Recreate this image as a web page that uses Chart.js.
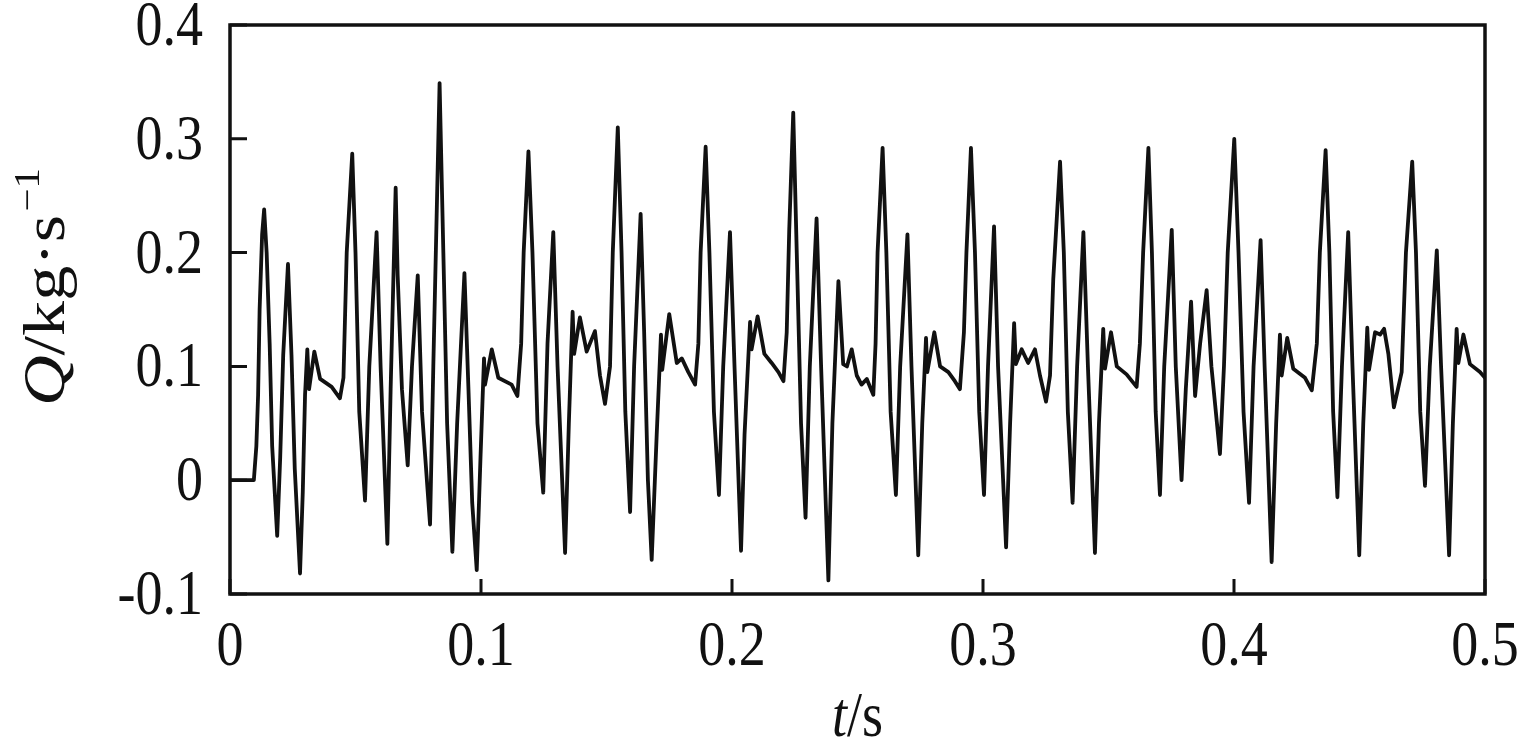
<!DOCTYPE html>
<html>
<head>
<meta charset="utf-8">
<script src="https://cdn.jsdelivr.net/npm/chart.js@4/dist/chart.umd.min.js"></script>
<style>
  html, body { margin: 0; padding: 0; background: #fff; }
  #wrap { width: 1535px; height: 740px; }
</style>
</head>
<body>
<div id="wrap"><canvas id="graphique"></canvas></div>
<script>
// temps (s) et debit (kg/s)
const tValues = [
  0, 0.0095, 0.0105, 0.0112, 0.0118, 0.0128, 0.0136, 0.0146, 0.0158, 0.0168,
  0.0188, 0.0200, 0.0212, 0.0231, 0.0245, 0.0258, 0.0279, 0.0290, 0.0299, 0.0308,
  0.0315, 0.0336, 0.0359, 0.0405, 0.0438, 0.0452, 0.0465, 0.0487, 0.0500, 0.0515,
  0.0538, 0.0555, 0.0584, 0.0600, 0.0627, 0.0640, 0.0660, 0.0668, 0.0685, 0.0708,
  0.0725, 0.0748, 0.0765, 0.0797, 0.0810, 0.0835, 0.0850, 0.0865, 0.0886, 0.0905,
  0.0934, 0.0950, 0.0965, 0.0983, 0.0998, 0.1012, 0.1016, 0.1043, 0.1069, 0.1122,
  0.1145, 0.1160, 0.1170, 0.1189, 0.1205, 0.1225, 0.1248, 0.1265, 0.1288, 0.1305,
  0.1335, 0.1350, 0.1365, 0.1371, 0.1394, 0.1421, 0.1454, 0.1474, 0.1494, 0.1514,
  0.1525, 0.1545, 0.1560, 0.1575, 0.1594, 0.1610, 0.1636, 0.1650, 0.1665, 0.1680,
  0.1700, 0.1717, 0.1722, 0.1750, 0.1780, 0.1800, 0.1826, 0.1853, 0.1866, 0.1875,
  0.1895, 0.1910, 0.1928, 0.1948, 0.1965, 0.1992, 0.2010, 0.2036, 0.2050, 0.2072,
  0.2078, 0.2102, 0.2129, 0.2158, 0.2185, 0.2205, 0.2218, 0.2228, 0.2244, 0.2258,
  0.2275, 0.2293, 0.2310, 0.2337, 0.2355, 0.2384, 0.2400, 0.2424, 0.2443, 0.2458,
  0.2477, 0.2497, 0.2516, 0.2537, 0.2563, 0.2572, 0.2580, 0.2600, 0.2615, 0.2632,
  0.2653, 0.2670, 0.2699, 0.2715, 0.2742, 0.2758, 0.2773, 0.2778, 0.2806, 0.2829,
  0.2862, 0.2888, 0.2908, 0.2924, 0.2934, 0.2952, 0.2968, 0.2985, 0.3004, 0.3020,
  0.3044, 0.3060, 0.3092, 0.3108, 0.3124, 0.3131, 0.3154, 0.3180, 0.3207, 0.3227,
  0.3251, 0.3267, 0.3280, 0.3307, 0.3322, 0.3338, 0.3357, 0.3375, 0.3400, 0.3418,
  0.3446, 0.3462, 0.3479, 0.3486, 0.3510, 0.3533, 0.3572, 0.3612, 0.3625, 0.3638,
  0.3659, 0.3673, 0.3688, 0.3705, 0.3722, 0.3752, 0.3768, 0.3791, 0.3808, 0.3829,
  0.3845, 0.3865, 0.3891, 0.3910, 0.3944, 0.3960, 0.3975, 0.4001, 0.4018, 0.4038,
  0.4060, 0.4078, 0.4106, 0.4122, 0.4150, 0.4168, 0.4183, 0.4190, 0.4212, 0.4236,
  0.4283, 0.4310, 0.4330, 0.4342, 0.4365, 0.4380, 0.4395, 0.4412, 0.4430, 0.4455,
  0.4472, 0.4499, 0.4515, 0.4531, 0.4538, 0.4562, 0.4582, 0.4598, 0.4615, 0.4637,
  0.4668, 0.4685, 0.4710, 0.4725, 0.4742, 0.4761, 0.4780, 0.4808, 0.4825, 0.4857,
  0.4872, 0.4887, 0.4894, 0.4914, 0.4940, 0.4980, 0.5000
];

const qValues = [
  0, 0, 0.03, 0.075, 0.15, 0.216, 0.238, 0.2, 0.12, 0.03,
  -0.049, 0.02, 0.11, 0.19, 0.11, 0.01, -0.082, -0.01, 0.075, 0.115,
  0.08, 0.113, 0.089, 0.082, 0.072, 0.09, 0.2, 0.287, 0.2, 0.06,
  -0.018, 0.1, 0.218, 0.1, -0.056, 0.08, 0.257, 0.18, 0.08, 0.013,
  0.1, 0.18, 0.06, -0.039, 0.1, 0.349, 0.2, 0.05, -0.063, 0.05,
  0.182, 0.08, -0.02, -0.079, 0.02, 0.107, 0.084, 0.115, 0.09, 0.084,
  0.074, 0.12, 0.2, 0.289, 0.2, 0.05, -0.011, 0.12, 0.218, 0.1,
  -0.064, 0.05, 0.148, 0.111, 0.143, 0.113, 0.131, 0.092, 0.067, 0.1,
  0.2, 0.31, 0.2, 0.06, -0.028, 0.1, 0.234, 0.13, 0.0, -0.07,
  0.04, 0.128, 0.097, 0.146, 0.103, 0.107, 0.095, 0.084, 0.12, 0.2,
  0.293, 0.2, 0.06, -0.013, 0.1, 0.218, 0.1, -0.062, 0.04, 0.139,
  0.115, 0.144, 0.111, 0.103, 0.095, 0.087, 0.13, 0.22, 0.323, 0.2,
  0.05, -0.033, 0.1, 0.23, 0.1, -0.088, 0.05, 0.175, 0.102, 0.1,
  0.115, 0.092, 0.084, 0.089, 0.075, 0.12, 0.2, 0.292, 0.2, 0.06,
  -0.013, 0.1, 0.216, 0.1, -0.066, 0.05, 0.125, 0.095, 0.13, 0.1,
  0.095, 0.087, 0.08, 0.13, 0.2, 0.292, 0.2, 0.06, -0.013, 0.1,
  0.223, 0.1, -0.059, 0.05, 0.138, 0.102, 0.115, 0.103, 0.115, 0.092,
  0.069, 0.092, 0.177, 0.28, 0.2, 0.06, -0.02, 0.1, 0.218, 0.1,
  -0.064, 0.05, 0.133, 0.098, 0.13, 0.1, 0.093, 0.082, 0.12, 0.2,
  0.292, 0.2, 0.06, -0.013, 0.1, 0.22, 0.1, 0.0, 0.08, 0.157,
  0.074, 0.12, 0.167, 0.1, 0.023, 0.1, 0.2, 0.3, 0.2, 0.06,
  -0.02, 0.1, 0.211, 0.1, -0.072, 0.05, 0.128, 0.092, 0.125, 0.098,
  0.09, 0.079, 0.12, 0.2, 0.29, 0.2, 0.06, -0.015, 0.1, 0.218,
  0.1, -0.066, 0.05, 0.134, 0.097, 0.13, 0.128, 0.133, 0.111, 0.064,
  0.095, 0.2, 0.28, 0.2, 0.06, -0.005, 0.1, 0.202, 0.1, -0.066,
  0.05, 0.133, 0.103, 0.128, 0.102, 0.095, 0.09
];

const xTickLabels = ["0", "0.1", "0.2", "0.3", "0.4", "0.5"];
const yTickLabels = ["-0.1", "0", "0.1", "0.2", "0.3", "0.4"];

const police = "'Liberation Serif'";
const etirement = 1.17; // le texte de la figure est etire verticalement

// cadre + graduations vers l'interieur
const cadrePlugin = {
  id: "cadre",
  afterDraw(chart) {
    const ctx = chart.ctx;
    const a = chart.chartArea;
    const sx = chart.scales.x;
    const sy = chart.scales.y;
    ctx.save();
    ctx.strokeStyle = "#111";
    ctx.lineWidth = 3.5;
    ctx.strokeRect(a.left, a.top, a.right - a.left, a.bottom - a.top);
    ctx.lineWidth = 3;
    ctx.beginPath();
    sy.ticks.forEach(t => {
      const y = sy.getPixelForValue(t.value);
      ctx.moveTo(a.left, y);
      ctx.lineTo(a.left + 17, y);
    });
    sx.ticks.forEach(t => {
      const x = sx.getPixelForValue(t.value);
      ctx.moveTo(x, a.bottom);
      ctx.lineTo(x, a.bottom - 15);
    });
    ctx.stroke();
    ctx.restore();
  }
};

function texteEtire(ctx, txt, x, y, align) {
  ctx.save();
  ctx.translate(x, y);
  ctx.scale(1, etirement);
  ctx.textAlign = align;
  ctx.fillText(txt, 0, 0);
  ctx.restore();
}

// etiquettes des graduations et titres des axes
const textesPlugin = {
  id: "textes",
  afterDraw(chart) {
    const ctx = chart.ctx;
    const a = chart.chartArea;
    const sx = chart.scales.x;
    const sy = chart.scales.y;
    const fNo = "54px " + police;
    const fIt = "italic 54px " + police;
    ctx.save();
    ctx.fillStyle = "#111";
    ctx.textBaseline = "alphabetic";
    ctx.font = fNo;

    sy.ticks.forEach((t, i) => {
      const y = sy.getPixelForValue(t.value);
      texteEtire(ctx, yTickLabels[i], a.left - 27, y + 20, "right");
    });
    sx.ticks.forEach((t, i) => {
      const x = sx.getPixelForValue(t.value);
      texteEtire(ctx, xTickLabels[i], x, a.bottom + 71, "center");
    });

    // axe x : t/s
    ctx.font = fIt;
    const w1 = ctx.measureText("t").width;
    ctx.font = fNo;
    const w2 = ctx.measureText("/s").width;
    const x0 = (a.left + a.right) / 2 - (w1 + w2) / 2;
    ctx.font = fIt;
    texteEtire(ctx, "t", x0, 736, "left");
    ctx.font = fNo;
    texteEtire(ctx, "/s", x0 + w1, 736, "left");

    // axe y : Q/kg·s^-1
    const fT = "60px " + police;
    const fTi = "italic 60px " + police;
    const fSup = "35px " + police;
    ctx.translate(64, 287);
    ctx.rotate(-Math.PI / 2);
    ctx.scale(etirement, 1);
    ctx.font = fTi;
    const q = ctx.measureText("Q").width;
    ctx.font = fT;
    const m = ctx.measureText("/kg·s").width;
    ctx.font = fSup;
    const s = ctx.measureText("−1").width;
    let x = -(q + m + s + 3) / 2;
    ctx.font = fTi;
    ctx.fillText("Q", x, 0);
    x += q;
    ctx.font = fT;
    ctx.fillText("/kg·s", x, 0);
    x += m + 3;
    ctx.font = fSup;
    ctx.fillText("−1", x, -25);
    ctx.restore();
  }
};

const points = tValues.map((t, i) => ({ x: t, y: qValues[i] }));

new Chart(document.getElementById("graphique"), {
  type: "line",
  data: {
    datasets: [{
      data: points,
      borderColor: "#111",
      borderWidth: 3.8,
      borderJoinStyle: "round",
      borderCapStyle: "round",
      pointRadius: 0,
      tension: 0,
      fill: false
    }]
  },
  options: {
    responsive: true,
    maintainAspectRatio: false,
    animation: false,
    events: [],
    layout: { padding: { left: 0, right: 50, top: 25, bottom: 0 } },
    plugins: {
      legend: { display: false },
      tooltip: { enabled: false }
    },
    scales: {
      x: {
        type: "linear",
        min: 0,
        max: 0.5,
        grid: { display: false, drawTicks: false },
        border: { display: false },
        afterFit: s => { s.height = 146; },
        afterBuildTicks: s => {
          s.ticks = xTickLabels.map(v => ({ value: parseFloat(v) }));
        },
        ticks: { display: false }
      },
      y: {
        min: -0.1,
        max: 0.4,
        grid: { display: false, drawTicks: false },
        border: { display: false },
        afterFit: s => { s.width = 230; },
        afterBuildTicks: s => {
          s.ticks = yTickLabels.map(v => ({ value: parseFloat(v) }));
        },
        ticks: { display: false }
      }
    }
  },
  plugins: [cadrePlugin, textesPlugin]
});
</script>
</body>
</html>
